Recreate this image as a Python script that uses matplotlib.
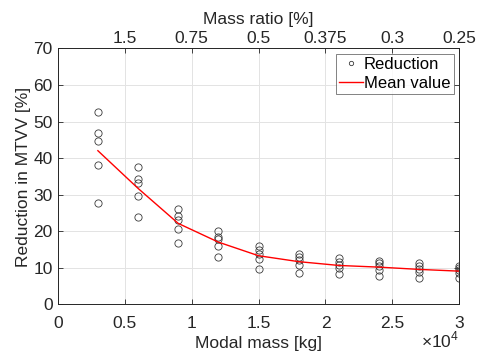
import numpy as np
import matplotlib.pyplot as plt

plt.rcParams['font.family'] = ['Liberation Sans', 'DejaVu Sans']
plt.rcParams['mathtext.fontset'] = 'custom'
plt.rcParams['mathtext.rm'] = 'Liberation Sans'

# masses modales (kg)
masses = [3000, 6000, 9000, 12000, 15000, 18000, 21000, 24000, 27000, 30000]
# reduction MTVV (%) pour chaque masse
reductions = [
    [52.7, 47.0, 44.7, 38.1, 27.7],
    [37.5, 34.4, 33.2, 29.6, 24.0],
    [26.2, 24.1, 23.2, 20.6, 16.7],
    [20.1, 18.5, 17.8, 15.9, 12.9],
    [15.9, 14.8, 13.9, 12.3, 9.7],
    [13.9, 13.0, 12.1, 10.9, 8.6],
    [12.6, 11.7, 10.8, 9.9, 8.3],
    [12.0, 11.2, 10.5, 9.4, 7.9],
    [11.4, 10.6, 9.8, 8.8, 7.3],
    [10.6, 9.9, 9.4, 8.5, 7.1],
]
# ratio de masse (axe du haut)
ratio_pos = [5000, 10000, 15000, 20000, 25000, 30000]
ratio_lab = ['1.5', '0.75', '0.5', '0.375', '0.3', '0.25']

gris = '#262626'
fig = plt.figure(figsize=(4.81, 3.59), dpi=100)
ax = fig.add_axes([0.12, 0.152, 0.835, 0.713])

x_pts = np.repeat(masses, [len(r) for r in reductions])
y_pts = np.concatenate(reductions)
moy = [np.mean(r) for r in reductions]

ax.plot(x_pts, y_pts, 'o', mfc='none', mec='#3a3a3a', ms=5.2, mew=0.6, label='Reduction')
ax.plot(masses, moy, '-', color='red', lw=1.0, label='Mean value')

ax.set_xlim(0, 30000)
ax.set_ylim(0, 70)
ax.set_xticks(np.arange(0, 30001, 5000))
ax.set_xticklabels(['0', '0.5', '1', '1.5', '2', '2.5', '3'])
ax.set_yticks(np.arange(0, 71, 10))
ax.grid(True, color='#e3e3e3', lw=0.7)
ax.set_axisbelow(True)
ax.tick_params(direction='in', length=3.5, width=0.6, colors=gris, labelsize=12.5,
               right=True, labelcolor=gris)
ax.tick_params(axis='x', pad=8)
for s in ax.spines.values():
    s.set_color(gris)
    s.set_linewidth(0.6)
ax.set_xlabel('Modal mass [kg]', fontsize=12.5, color=gris, labelpad=4)
ax.set_ylabel('Reduction in MTVV [%]', fontsize=12.5, color=gris, labelpad=2)
ax.text(1.0, -0.167, r'$\times10^4$', transform=ax.transAxes, ha='right', va='baseline',
        fontsize=12.5, color=gris)

ax2 = ax.twiny()
ax2.set_xlim(ax.get_xlim())
ax2.set_xticks(ratio_pos)
ax2.set_xticklabels(ratio_lab)
ax2.tick_params(direction='in', length=3.5, width=0.6, colors=gris, labelsize=12.5, pad=2)
ax2.set_xlabel('Mass ratio [%]', fontsize=12.5, color=gris, labelpad=5)
for s in ax2.spines.values():
    s.set_color(gris)
    s.set_linewidth(0.6)

leg = ax.legend(loc='upper right', fontsize=12, frameon=True, fancybox=False,
                edgecolor='#4a4a4a', handlelength=1.45, handletextpad=0.05,
                borderpad=0.2, labelspacing=0.2, borderaxespad=0.33, markerscale=0.6)
leg.get_frame().set_linewidth(0.6)

fig.savefig('out.png', dpi=100)
